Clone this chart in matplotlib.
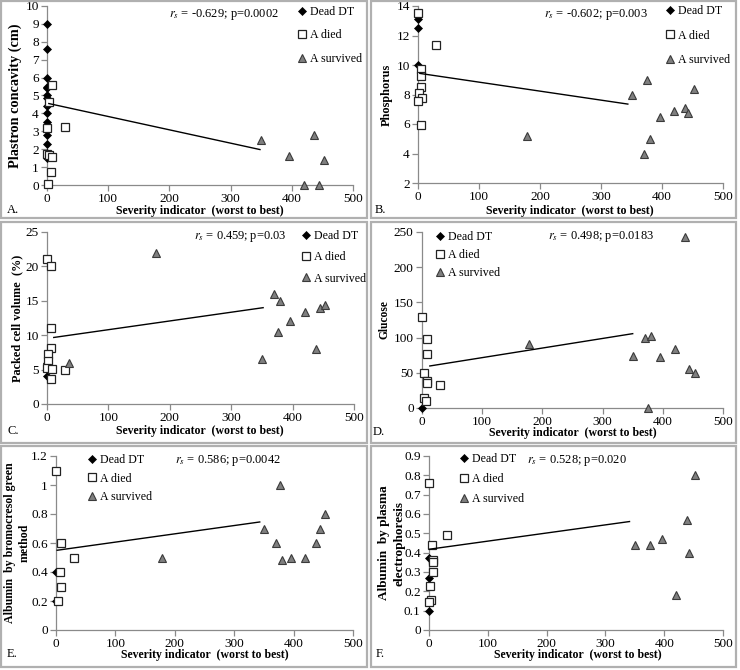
import matplotlib
matplotlib.use('Agg')
import matplotlib.pyplot as plt
from matplotlib.patches import Rectangle

plt.rcParams['font.family'] = ['Liberation Serif', 'DejaVu Serif']
plt.rcParams['mathtext.fontset'] = 'stix'

# ---------------- data ----------------
xticks = [0, 100, 200, 300, 400, 500]
series_names = ['Dead DT', 'A died', 'A survived']

# A. Plastron concavity
A_dead_x = [0, 0, 0, 0, 0, 0, 0, 0, 0, 0, 0, 0, 0, 0, 0, 0]
A_dead_y = [9.0, 7.6, 6.0, 5.5, 5.4, 5.0, 4.85, 4.4, 4.0, 3.5, 3.3, 2.8, 2.3, 1.8, 1.6, 1.5]
A_died_x = [8, 3, 30, 0, 0, 3, 8, 6, 2]
A_died_y = [5.6, 4.65, 3.25, 3.2, 1.75, 1.7, 1.55, 0.7, 0.05]
A_surv_x = [350, 437, 396, 452, 420, 444]
A_surv_y = [2.5, 2.8, 1.6, 1.4, 0.0, 0.0]
A_trend_x = [3, 348]
A_trend_y = [4.55, 1.98]

# B. Phosphorus
B_dead_x = [0, 0, 0]
B_dead_y = [13.1, 12.5, 10.0]
B_died_x = [0, 30, 5, 5, 5, 2, 6, 0, 5]
B_died_y = [13.5, 11.35, 9.7, 9.25, 8.5, 8.1, 7.75, 7.55, 5.95]
B_surv_x = [178, 350, 375, 370, 380, 396, 420, 438, 443, 452]
B_surv_y = [5.2, 8.0, 9.0, 4.0, 5.0, 6.5, 6.85, 7.1, 6.75, 8.35]
B_trend_x = [3, 344]
B_trend_y = [9.43, 7.35]

# C. Packed cell volume
C_dead_x = [0, 0]
C_dead_y = [6.0, 4.1]
C_died_x = [0, 7, 6, 7, 2, 2, 0, 8, 30, 6]
C_died_y = [21.1, 20.1, 11.1, 8.1, 7.2, 6.3, 5.2, 5.1, 5.0, 3.6]
C_surv_x = [178, 36, 350, 370, 380, 376, 396, 420, 438, 444, 453]
C_surv_y = [22.0, 6.0, 6.5, 16.0, 15.0, 10.4, 12.0, 13.4, 8.0, 14.0, 14.4]
C_trend_x = [11, 352]
C_trend_y = [9.67, 14.0]

# D. Glucose
D_dead_x = [0]
D_dead_y = [0]
D_died_x = [0, 8, 8, 3, 8, 8, 30, 3, 7]
D_died_y = [129, 98, 77, 50, 38, 36, 32, 14, 10]
D_surv_x = [178, 350, 370, 380, 375, 396, 420, 437, 444, 453]
D_surv_y = [91, 74, 100, 102, 0, 72, 84, 243, 55, 50]
D_trend_x = [13, 350]
D_trend_y = [59.7, 105.6]

# E. Albumin (bromocresol green)
E_dead_x = [0, 0]
E_dead_y = [0.4, 0.2]
E_died_x = [0, 8, 30, 7, 8, 3]
E_died_y = [1.1, 0.6, 0.5, 0.4, 0.3, 0.2]
E_surv_x = [178, 350, 370, 377, 380, 396, 420, 438, 444, 453]
E_surv_y = [0.5, 0.7, 0.6, 1.0, 0.48, 0.5, 0.5, 0.6, 0.7, 0.8]
E_trend_x = [2, 343]
E_trend_y = [0.55, 0.745]

# F. Albumin (plasma electrophoresis)
F_dead_x = [0, 0, 0, 0]
F_dead_y = [0.37, 0.27, 0.15, 0.10]
F_died_x = [0, 30, 5, 7, 7, 7, 2, 3, 0]
F_died_y = [0.76, 0.49, 0.44, 0.36, 0.35, 0.30, 0.23, 0.155, 0.145]
F_surv_x = [350, 376, 396, 420, 438, 443, 452]
F_surv_y = [0.44, 0.44, 0.47, 0.18, 0.57, 0.40, 0.80]
F_trend_x = [1, 341]
F_trend_y = [0.418, 0.561]

stats = {'A': ('-0.629', '0.0002'), 'B': ('-0.602', '0.003'), 'C': ('0.459', '0.03'),
         'D': ('0.498', '0.0183'), 'E': ('0.586', '0.0042'), 'F': ('0.528', '0.020')}
ylabels = {'A': 'Plastron concavity (cm)', 'B': 'Phosphorus', 'C': 'Packed cell volume  (%)',
           'D': 'Glucose', 'E': 'Albumin  by bromocresol green\nmethod',
           'F': 'Albumin  by plasma\nelectrophoresis'}
yticks = {'A': [0, 1, 2, 3, 4, 5, 6, 7, 8, 9, 10], 'B': [2, 4, 6, 8, 10, 12, 14],
          'C': [0, 5, 10, 15, 20, 25], 'D': [0, 50, 100, 150, 200, 250],
          'E': [0, 0.2, 0.4, 0.6, 0.8, 1.0, 1.2],
          'F': [0, 0.1, 0.2, 0.3, 0.4, 0.5, 0.6, 0.7, 0.8, 0.9]}
xlabel = 'Severity indicator  (worst to best)'

data = {
    'A': (A_dead_x, A_dead_y, A_died_x, A_died_y, A_surv_x, A_surv_y, A_trend_x, A_trend_y),
    'B': (B_dead_x, B_dead_y, B_died_x, B_died_y, B_surv_x, B_surv_y, B_trend_x, B_trend_y),
    'C': (C_dead_x, C_dead_y, C_died_x, C_died_y, C_surv_x, C_surv_y, C_trend_x, C_trend_y),
    'D': (D_dead_x, D_dead_y, D_died_x, D_died_y, D_surv_x, D_surv_y, D_trend_x, D_trend_y),
    'E': (E_dead_x, E_dead_y, E_died_x, E_died_y, E_surv_x, E_surv_y, E_trend_x, E_trend_y),
    'F': (F_dead_x, F_dead_y, F_died_x, F_died_y, F_surv_x, F_surv_y, F_trend_x, F_trend_y),
}

# ---------------- layout (pixels, origin top-left) ----------------
W, H = 740, 670
fig = plt.figure(figsize=(W / 100, H / 100), dpi=100)
fig.patch.set_facecolor('white')

def fx(x):
    return x / W

def fy(y):
    return 1 - y / H

frames = [(1, 1, 367, 218), (371, 1, 736, 218), (1, 222, 367, 443),
          (371, 222, 736, 443), (1, 446, 367, 667), (371, 446, 736, 667)]
for (x0, y0, x1, y1) in frames:
    fig.patches.append(Rectangle((fx(x0), fy(y1)), fx(x1) - fx(x0), fy(y0) - fy(y1),
                                 transform=fig.transFigure, fill=False,
                                 edgecolor='#b0b0b0', linewidth=1.6))

layout = {
    'A': dict(box=(47, 353, 6, 185), ylx=[15], ylfs=10.3, xl=(200, 211), let=(7, 210), st=(224, 14), leg=(302, 12, 0.95)),
    'B': dict(box=(418, 723, 6, 183), ylx=[387], ylfs=8.8, xl=(570, 211), let=(375, 210), st=(596, 15), leg=(670, 11, 1.05)),
    'C': dict(box=(47, 354, 232, 404), ylx=[17], ylfs=8.8, xl=(200, 431), let=(7, 431), st=(240, 237), leg=(306, 236, 0.78)),
    'D': dict(box=(422, 723, 232, 408), ylx=[385], ylfs=8.3, xl=(573, 433), let=(373, 432), st=(601, 237), leg=(440, 237, 0.52)),
    'E': dict(box=(56, 353, 456, 630), ylx=[10, 25], ylfs=8.6, xl=(205, 655), let=(7, 654), st=(228, 461), leg=(92, 460, 0.55)),
    'F': dict(box=(429, 723, 456, 630), ylx=[384, 399], ylfs=9.5, xl=(578, 655), let=(376, 654), st=(577, 460), leg=(464, 459, 0.68)),
}

GRAY = '#8a8a8a'
FS = 9.5

def fmt(v):
    return ('%g' % v)

for key in ['A', 'B', 'C', 'D', 'E', 'F']:
    L = layout[key]
    l, r, t, b = L['box']
    ax = fig.add_axes([fx(l), fy(b), fx(r) - fx(l), fy(t) - fy(b)])
    dx, dy, ix, iy, sx, sy, tx, ty = data[key]
    yt = yticks[key]
    ax.set_xlim(0, 500)
    ax.set_ylim(yt[0], yt[-1])
    ax.set_xticks(xticks)
    ax.set_xticklabels([fmt(v) for v in xticks])
    ax.set_yticks(yt)
    ax.set_yticklabels([fmt(v) for v in yt])
    for s in ['top', 'right']:
        ax.spines[s].set_visible(False)
    for s in ['left', 'bottom']:
        ax.spines[s].set_color(GRAY)
        ax.spines[s].set_linewidth(0.9)
    ax.tick_params(direction='out', length=4, width=0.9, color=GRAY, labelsize=FS, pad=2)
    ax.tick_params(axis='x', pad=1.5)
    ax.patch.set_alpha(0)

    h1, = ax.plot(dx, dy, ls='none', marker='D', ms=4, mfc='black', mec='black',
                  mew=0.5, clip_on=False, zorder=3, label=series_names[0])
    h2, = ax.plot(ix, iy, ls='none', marker='s', ms=6, mfc='white', mec='#222222',
                  mew=0.9, clip_on=False, zorder=4, label=series_names[1])
    h3, = ax.plot(sx, sy, ls='none', marker='^', ms=6, mfc='#7f7f7f', mec='#3a3a3a',
                  mew=0.8, clip_on=False, zorder=5, label=series_names[2])
    ax.plot(tx, ty, color='black', lw=1.0, zorder=6)

    lx, ly, sp = L['leg']
    ax.legend(handles=[h1, h2, h3], loc='upper left',
              bbox_to_anchor=(fx(lx - 5), fy(ly - 6)), bbox_transform=fig.transFigure,
              frameon=False, fontsize=8.6, handlelength=0.8, handletextpad=0.25,
              borderpad=0, borderaxespad=0, labelspacing=sp, numpoints=1)

    rs, p = stats[key]
    fig.text(fx(L['st'][0]), fy(L['st'][1]), r'$r_s$' + ' = ' + rs + '; p=' + p,
             ha='center', va='center', fontsize=9)

    lines = ylabels[key].split('\n')
    cy = (t + b) / 2
    for k, txt in enumerate(lines):
        fig.text(fx(L['ylx'][k]), fy(cy), txt, rotation=90, ha='center', va='center',
                 fontsize=L['ylfs'], fontweight='bold')
    fig.text(fx(L['xl'][0]), fy(L['xl'][1]), xlabel, ha='center', va='center',
             fontsize=8.5, fontweight='bold')
    fig.text(fx(L['let'][0]), fy(L['let'][1]), key + '.', ha='left', va='center', fontsize=9)

fig.savefig('out.png', dpi=100, facecolor='white')
